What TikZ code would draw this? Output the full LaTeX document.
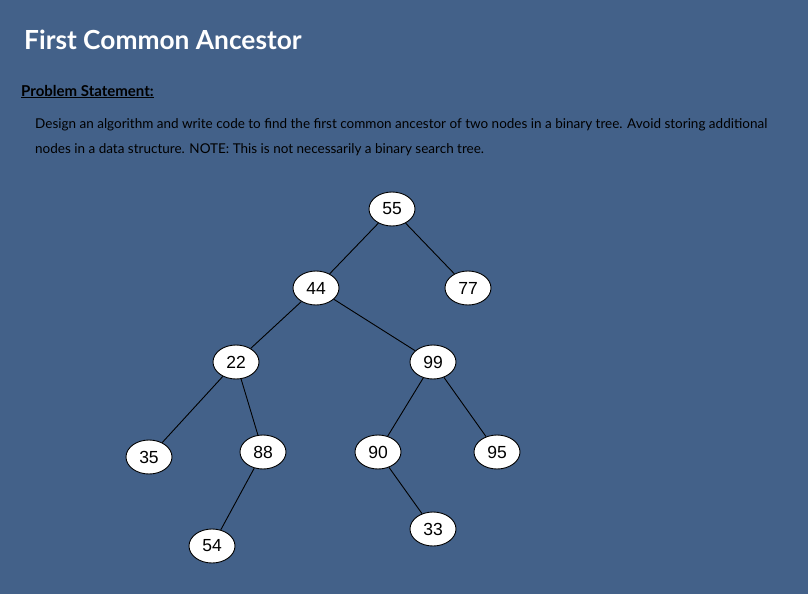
\documentclass[tikz,border=0pt]{standalone}
\usepackage{fontspec}
\setmainfont{Lato}
\newfontfamily\numfont{Liberation Sans}
\usetikzlibrary{shapes.geometric}
\definecolor{slide}{RGB}{67,97,137}
\tikzset{tnode/.style={ellipse, draw=black, fill=white, line width=0.9pt, minimum width=46pt, minimum height=34pt, inner sep=0pt, font=\numfont\fontsize{17.5}{17.5}\selectfont},
%text lines start at their base line
txt/.style={anchor=base west, inner sep=0pt}}

\begin{document}
\begin{tikzpicture}[x=1pt,y=-1pt]

\fill [slide] (0,0) rectangle (808,594);
\useasboundingbox (0,0) rectangle (808,594);

% header and statement
\node[txt, text=white, font=\bfseries\fontsize{26.3}{26.3}\selectfont] (title) at (24,50) {First Common Ancestor};
\node[txt, font=\bfseries\fontsize{15}{15}\selectfont] (head) at (21,96) {\underline{Problem Statement:}};
\node[txt, font=\fontsize{13.5}{13.5}\selectfont] (line1) at (35,128) {Design an algorithm and write code to find the first common ancestor of two nodes in a binary tree. Avoid storing additional};
\node[txt, font=\fontsize{13.5}{13.5}\selectfont] (line2) at (35,153) {nodes in a data structure. NOTE: This is not necessarily a binary search tree.};

% tree nodes
\node[tnode] (n55) at (392,209) {55};
\node[tnode] (n44) at (316,288) {44};
\node[tnode] (n77) at (468,288) {77};
\node[tnode] (n22) at (236,362) {22};
\node[tnode] (n99) at (433,362) {99};
\node[tnode] (n35) at (149,457) {35};
\node[tnode] (n88) at (263,452) {88};
\node[tnode] (n90) at (378,452) {90};
\node[tnode] (n95) at (497,452) {95};
\node[tnode] (n54) at (212,546) {54};
\node[tnode] (n33) at (433,529) {33};

% edges
\begin{scope}[line width=0.9pt]
\draw (n55)--(n44);
\draw (n55)--(n77);
\draw (n44)--(n22);
\draw (n44)--(n99);
\draw (n22)--(n35);
\draw (n22)--(n88);
\draw (n88)--(n54);
\draw (n99)--(n90);
\draw (n99)--(n95);
\draw (n90)--(n33);
\end{scope}

\end{tikzpicture}
\end{document}
